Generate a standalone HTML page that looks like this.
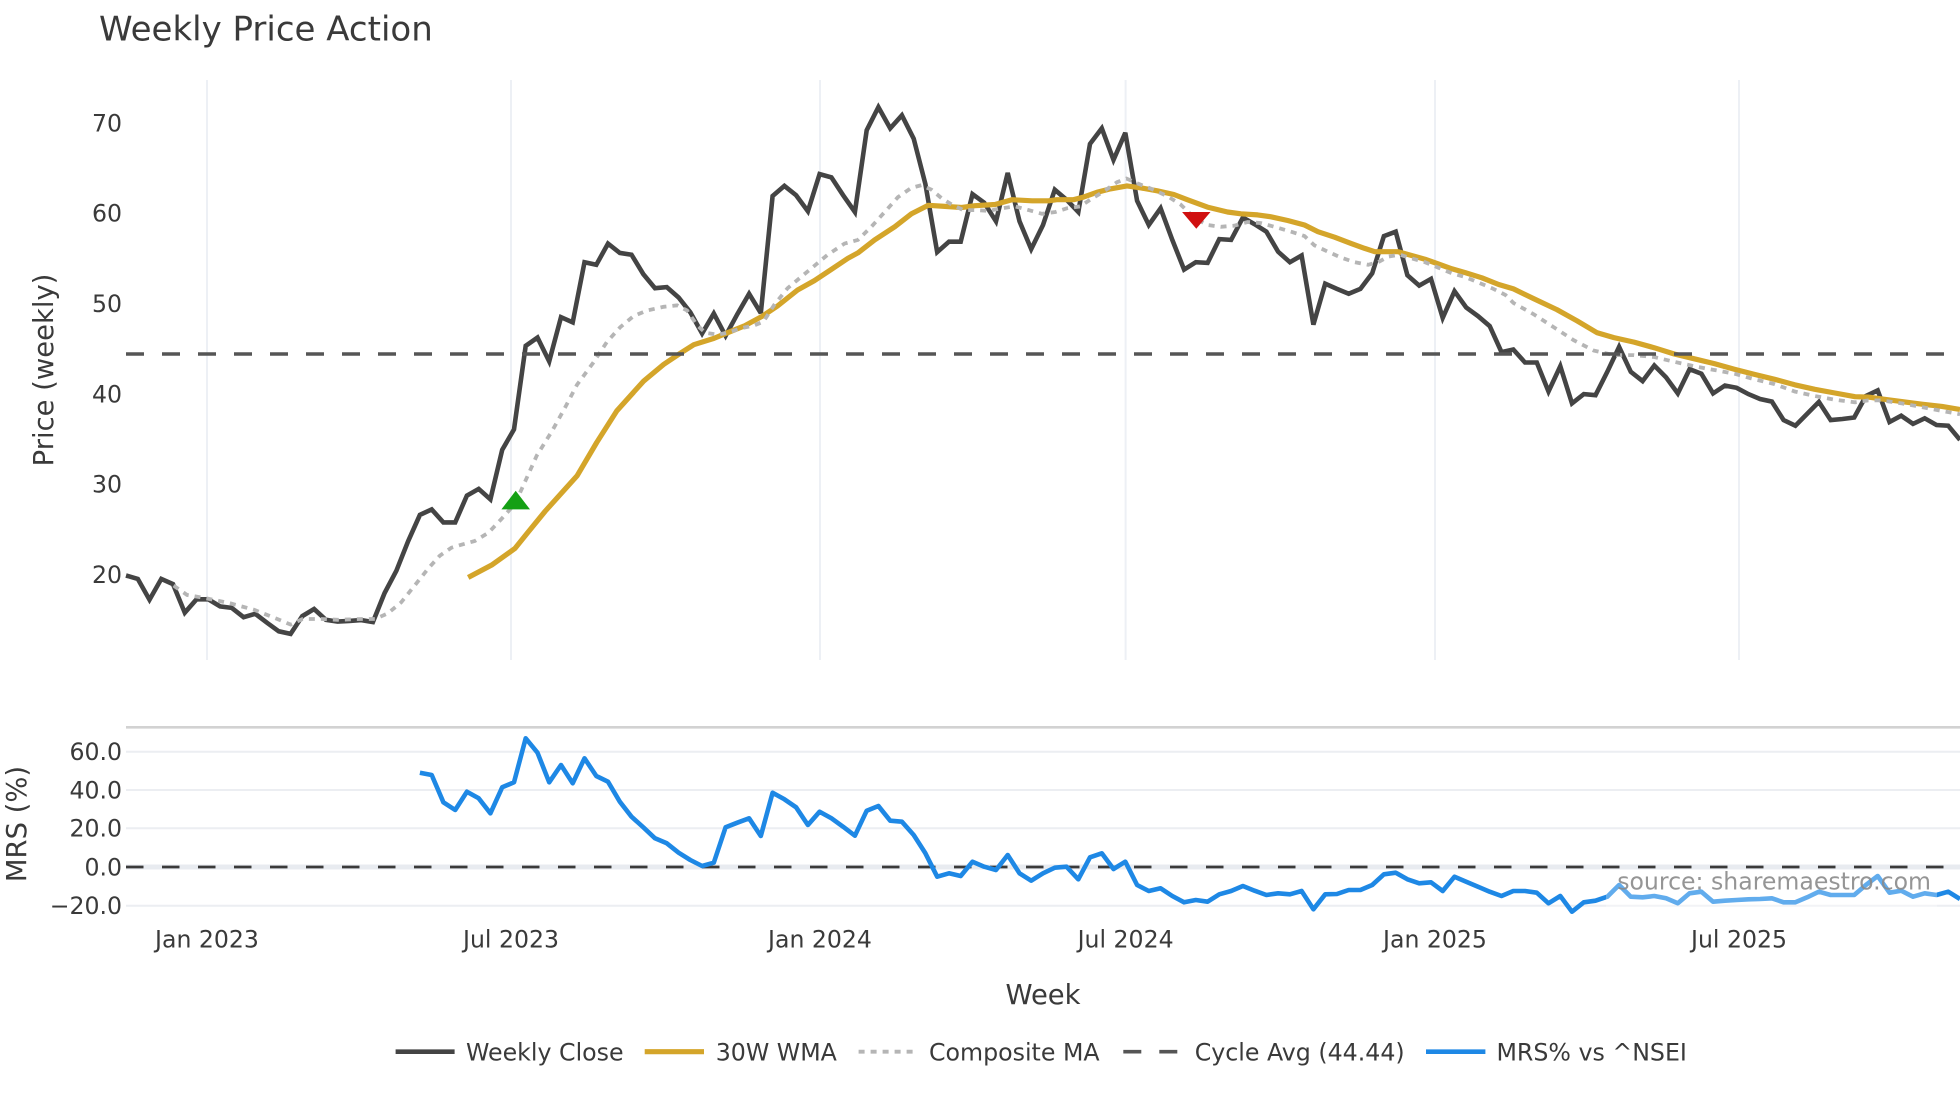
<!DOCTYPE html>
<html>
<head>
<meta charset="utf-8">
<style>
html,body{margin:0;padding:0;background:#ffffff;}
svg{display:block;}
text{font-family:"DejaVu Sans","Liberation Sans",sans-serif;fill:#3a3a3a;}
</style>
</head>
<body>
<svg width="1960" height="1102" viewBox="0 0 1960 1102" xmlns="http://www.w3.org/2000/svg">
<rect x="0" y="0" width="1960" height="1102" fill="#ffffff"/>

<!-- Title -->
<text x="99" y="40.5" font-size="34">Weekly Price Action</text>

<!-- Main plot vertical gridlines -->
<g stroke="#edf0f5" stroke-width="2">
<line x1="207" y1="80" x2="207" y2="660"/>
<line x1="511" y1="80" x2="511" y2="660"/>
<line x1="820" y1="80" x2="820" y2="660"/>
<line x1="1125.6" y1="80" x2="1125.6" y2="660"/>
<line x1="1435" y1="80" x2="1435" y2="660"/>
<line x1="1739" y1="80" x2="1739" y2="660"/>
</g>

<!-- Main y tick labels -->
<g font-size="23.6" text-anchor="end">
<text x="122" y="131.4">70</text>
<text x="122" y="221.7">60</text>
<text x="122" y="312">50</text>
<text x="122" y="402.3">40</text>
<text x="122" y="492.6">30</text>
<text x="122" y="582.9">20</text>
</g>
<text transform="translate(53,370) rotate(-90)" text-anchor="middle" font-size="27.4">Price (weekly)</text>

<!-- Weekly Close -->
<polyline fill="none" stroke="#444444" stroke-width="4.6" stroke-linejoin="miter" stroke-miterlimit="3" points="126,575.5 137.8,578.9 149.5,599.7 161.3,578.9 173,584.1 184.8,612.7 196.5,599.3 208.3,599.3 220.1,606.4 231.8,607.9 243.6,617.2 255.3,613.8 267.1,622.8 278.8,631.3 290.6,633.9 302.3,616.1 314.1,609 325.9,619.8 337.6,621.6 349.4,620.9 361.1,620.1 372.9,622 384.6,593 396.4,570.7 408.2,541 419.9,514.9 431.7,509.4 443.4,522.4 455.2,522.4 466.9,495.6 478.7,488.9 490.4,499.3 502.2,449.9 514,429.4 525.7,345.8 537.5,337.6 549.2,361.4 561,317.2 572.7,322.4 584.5,262.2 596.3,264.8 608,243.6 619.8,252.9 631.5,254.7 643.3,274.1 655,288.2 666.8,287.1 678.6,297.5 690.3,312.3 702.1,333.5 713.8,313.5 725.6,335.8 737.3,314.2 749.1,293.8 760.8,313.1 772.6,196 784.4,185.9 796.1,195.2 807.9,211.2 819.6,174.1 831.4,177.4 843.1,195.2 854.9,212 866.7,130.2 878.4,107.1 890.2,128.3 901.9,115.3 913.7,138.7 925.4,184.1 937.2,252.1 949,241.7 960.7,241.7 972.5,194.1 984.2,202.7 996,221.3 1007.7,172.9 1019.5,221.3 1031.2,249.1 1043,225 1054.8,189.7 1066.5,199.7 1078.3,212 1090,143.9 1101.8,128.3 1113.5,159.9 1125.3,132.8 1137.1,200.8 1148.8,225 1160.6,208.3 1172.3,239.9 1184.1,269.6 1195.8,262.2 1207.6,262.9 1219.3,239.1 1231.1,239.9 1242.9,217.5 1254.6,224.2 1266.4,231.7 1278.1,251.7 1289.9,262.2 1301.6,255.5 1313.4,324.6 1325.2,283.7 1336.9,288.9 1348.7,293.8 1360.4,288.9 1372.2,273.3 1383.9,236.1 1395.7,231.7 1407.4,275.2 1419.2,285.6 1431,278.9 1442.7,317.9 1454.5,291.2 1466.2,307.5 1478,316.1 1489.7,326.1 1501.5,352.1 1513.3,349.5 1525,362.5 1536.8,362.5 1548.5,391.5 1560.3,366.2 1572,403.4 1583.8,394.1 1595.5,395.2 1607.3,371.8 1619.1,346.9 1630.8,371.8 1642.6,381.1 1654.3,365.5 1666.1,377.4 1677.8,393.4 1689.6,369.2 1701.4,373.7 1713.1,393.4 1724.9,385.6 1736.6,387.8 1748.4,394.1 1760.1,399 1771.9,401.6 1783.6,420.1 1795.4,425.7 1807.2,413.8 1818.9,401.9 1830.7,420.1 1842.4,419 1854.2,417.5 1865.9,396 1877.7,390.4 1889.5,422 1901.2,415.7 1913,423.9 1924.7,418.3 1936.5,425 1948.2,425.7 1960,439.9"/>

<!-- 30W WMA -->
<polyline fill="none" stroke="#d4a52a" stroke-width="5.2" stroke-linejoin="round" points="468.2,577.4 491.6,565.1 515,548.4 528.4,531.7 545.2,511.2 561.9,492.6 577,475.9 596.7,442.5 616.8,410.9 643.6,381.1 663.7,364.4 680.4,353.2 693.8,344.7 713.9,338.4 727.3,332.8 744,326.1 762.5,316.1 777.5,306 797.6,290 814.3,280.7 831.1,269.6 847.8,258.4 857.9,252.9 874.6,239.9 894.7,226.8 911.4,213.8 928.2,205.3 944.9,206.4 961.7,207.5 975,205.7 995.1,204.5 1011.9,199.7 1032,200.8 1048.7,200.8 1056.7,199.7 1073.5,199.7 1083.5,197.1 1096.9,192.3 1110.3,188.9 1127,185.9 1140.4,187.8 1157.2,190.8 1173.9,194.5 1187.3,199.7 1207.4,207.1 1227.5,212 1240.9,213.8 1257.6,214.9 1271,216.8 1287.7,220.5 1304.5,225 1317.9,231.7 1334.6,237.2 1351.3,243.6 1364.7,248.4 1374.8,251.7 1388.2,251.7 1398.2,251.7 1411.6,255.5 1425,259.2 1438.4,264 1451.8,268.8 1465.2,272.6 1481.9,277.8 1498.7,284.5 1513.5,288.9 1533.6,298.6 1557,309.7 1577.1,320.9 1597.2,332.8 1613.9,337.6 1634,342.1 1654.1,347.7 1674.2,354 1694.3,358.8 1714.3,363.6 1734.4,369.2 1754.5,374.4 1774.6,379.3 1794.7,384.8 1814.8,389.3 1834.9,393 1855,396.7 1868.3,397.1 1881.7,398.9 1901.8,401.6 1921.9,404.2 1942,406.4 1960,409.5"/>

<!-- Composite MA -->
<polyline fill="none" stroke="#b5b5b5" stroke-width="3.8" stroke-dasharray="6,6" points="173.6,585.6 187,594.9 207.7,598.6 230.5,603.4 253.9,609.7 277.3,619 290.7,624.6 302.5,619 320.9,619 337.6,619.8 361,619 375.1,619 387.8,613.4 401.2,602.3 414.6,585.6 428,568.8 439.7,555.8 451.4,547.7 461.5,544.7 474.9,541 488.3,532.8 501.7,518.7 515,503.8 525.1,481.5 536.8,455.5 551.9,431.3 565.3,407.1 577,384.8 593.4,362.5 606.8,342.1 620.2,327.2 633.6,316.1 647,310.5 663.7,306.8 677.1,305.3 687.1,310.5 697.2,325.4 705.5,332.8 717.3,334.6 727.3,332.8 740.7,328.3 754.1,325.4 763.5,321.6 774.2,304.9 787.6,288.2 801,277 814.3,265.9 827.7,254.7 844.5,243.6 857.9,239.9 871.3,226.8 884.7,212 898,197.1 911.4,187.8 921.5,185.2 931.5,189.7 941.6,198.2 951.6,204.5 963.3,210.1 975,210.1 988.4,210.9 1001.8,208.3 1015.2,206.4 1028.6,210.1 1042,213.8 1055.4,212 1066.8,208.3 1080.2,206.4 1090.2,199.7 1103.6,191.5 1117,182.2 1126.4,178.5 1137.1,183.3 1150.5,188.5 1167.2,196 1180.6,204.5 1194,217.5 1207.4,225 1220.8,226.8 1234.2,225.7 1247.6,222 1261,223.1 1274.4,226.8 1291.1,231.7 1304.5,236.1 1314.5,245.4 1327.9,251.7 1341.3,257.7 1354.7,262.2 1368.1,264.8 1378.1,262.2 1388.2,256.6 1399.9,254.7 1411.6,258.4 1425,262.2 1438.4,267.7 1451.8,273.3 1465.2,277 1478.6,282.6 1492,288.2 1505.4,294.9 1513.5,303 1533.6,314.2 1553.7,327.2 1573.7,340.2 1593.8,350.6 1613.9,355.1 1634,355.1 1654.1,357 1674.2,361.8 1694.3,366.2 1714.3,370 1734.4,373.7 1754.5,379.3 1774.6,384.1 1794.7,391.5 1814.8,396 1834.9,399.7 1855,402.3 1868.3,400.4 1881.7,400.4 1901.8,403.4 1921.9,407.1 1942,410.9 1960,414.3"/>

<!-- Cycle Avg dashed -->
<line x1="126" y1="354" x2="1960" y2="354" stroke="#555555" stroke-width="3.6" stroke-dasharray="18,18"/>

<!-- Markers -->
<polygon points="515.7,490.8 501.4,509.4 530,509.4" fill="#14a014"/>
<polygon points="1182.1,212 1210.5,212 1196.3,228.7" fill="#d01010"/>

<!-- MRS panel -->
<line x1="126" y1="727.3" x2="1960" y2="727.3" stroke="#d2d2d2" stroke-width="2.6"/>
<g stroke="#eceef2" stroke-width="2">
<line x1="126" y1="751.7" x2="1960" y2="751.7"/>
<line x1="126" y1="790" x2="1960" y2="790"/>
<line x1="126" y1="828.3" x2="1960" y2="828.3"/>
<line x1="126" y1="905.7" x2="1960" y2="905.7"/>
</g>
<line x1="126" y1="867" x2="1960" y2="867" stroke="#e8ebf0" stroke-width="5"/>
<line x1="126" y1="867" x2="1960" y2="867" stroke="#3a3a3a" stroke-width="2.7" stroke-dasharray="17.5,18.5"/>

<g font-size="23.6" text-anchor="end">
<text x="122" y="760.1">60.0</text>
<text x="122" y="798.4">40.0</text>
<text x="122" y="836.7">20.0</text>
<text x="122" y="875.4">0.0</text>
<text x="122" y="914.1">−20.0</text>
</g>
<text transform="translate(26,824) rotate(-90)" text-anchor="middle" font-size="27.4">MRS (%)</text>

<!-- MRS line -->
<polyline fill="none" stroke="#1e88e5" stroke-width="4.6" stroke-linejoin="round" points="419.9,772.7 431.7,775 443.4,802.3 455.2,810 466.9,791.7 478.7,798.3 490.4,813.3 502.2,787.3 514,782.3 525.7,738.3 537.5,752.7 549.2,782.3 561,765 572.7,783.3 584.5,758.3 596.3,776 608,781.7 619.8,801.7 631.5,816.7 643.3,827.3 655,838.3 666.8,843.3 678.6,852.7 690.3,860 702.1,866 713.8,862.7 725.6,827.3 737.3,822.7 749.1,818.3 760.8,836 772.6,792.7 784.4,799.3 796.1,807.3 807.9,825 819.6,811.7 831.4,818.3 843.1,826.7 854.9,835.7 866.7,810.7 878.4,806 890.2,820.7 901.9,821.7 913.7,835 925.4,853.3 937.2,876.7 949,873.3 960.7,876 972.5,861.7 984.2,866.7 996,870 1007.7,855 1019.5,873.3 1031.2,880.7 1043,873.3 1054.8,867.7 1066.5,866.7 1078.3,879.3 1090,857.3 1101.8,853.3 1113.5,869 1125.3,861.7 1137.1,885 1148.8,891 1160.6,888.3 1172.3,896 1184.1,902.3 1195.8,900 1207.6,901.7 1219.3,894.3 1231.1,891 1242.9,886 1254.6,890.7 1266.4,895 1278.1,893.3 1289.9,894.3 1301.6,891 1313.4,909.3 1325.2,894.3 1336.9,894 1348.7,890 1360.4,890 1372.2,885 1383.9,874.3 1395.7,872.7 1407.4,879.3 1419.2,883.3 1431,882.3 1442.7,891 1454.5,876.7 1466.2,881.7 1478,886.7 1489.7,891.7 1501.5,896 1513.3,891 1525,891 1536.8,892.7 1548.5,903.3 1560.3,896 1572,911.7 1583.8,902.3 1595.5,900.7 1607.3,896.7 1619.1,885 1630.8,896.7 1642.6,897.3 1654.3,896 1666.1,898.3 1677.8,903.3 1689.6,893.3 1701.4,891.7 1713.1,901.7 1724.9,900.7 1736.6,900 1748.4,899.3 1760.1,899 1771.9,898.3 1783.6,902.3 1795.4,902.3 1807.2,897.3 1818.9,891.7 1830.7,895 1842.4,895 1854.2,895 1865.9,885 1877.7,876 1889.5,892.7 1901.2,890.7 1913,896.7 1924.7,893.3 1936.5,895 1948.2,891.7 1960,899"/>

<!-- Watermark -->
<rect x="1606" y="870" width="331" height="37" fill="#ffffff" fill-opacity="0.3"/>
<text x="1931" y="889.5" font-size="23.6" text-anchor="end" style="fill:#8a8a8a" fill-opacity="0.9">source: sharemaestro.com</text>

<!-- X tick labels -->
<g font-size="23.6" text-anchor="middle">
<text x="207" y="947.5">Jan 2023</text>
<text x="511" y="947.5">Jul 2023</text>
<text x="820" y="947.5">Jan 2024</text>
<text x="1125.6" y="947.5">Jul 2024</text>
<text x="1435" y="947.5">Jan 2025</text>
<text x="1739" y="947.5">Jul 2025</text>
</g>
<text x="1043" y="1003.8" font-size="27.4" text-anchor="middle">Week</text>

<!-- Legend -->
<line x1="395.6" y1="1051.7" x2="454.6" y2="1051.7" stroke="#444444" stroke-width="4.6"/>
<text x="466" y="1060.5" font-size="23.7">Weekly Close</text>
<line x1="644.7" y1="1051.7" x2="704" y2="1051.7" stroke="#d4a52a" stroke-width="5.2"/>
<text x="715.7" y="1060.5" font-size="23.7">30W WMA</text>
<line x1="858.6" y1="1051.7" x2="916" y2="1051.7" stroke="#b5b5b5" stroke-width="3.8" stroke-dasharray="6,6"/>
<text x="929" y="1060.5" font-size="23.7">Composite MA</text>
<line x1="1123.3" y1="1051.7" x2="1178" y2="1051.7" stroke="#555555" stroke-width="3.6" stroke-dasharray="18,18"/>
<text x="1194.7" y="1060.5" font-size="23.7">Cycle Avg (44.44)</text>
<line x1="1426" y1="1051.7" x2="1485.4" y2="1051.7" stroke="#1e88e5" stroke-width="4.6"/>
<text x="1496.5" y="1060.5" font-size="23.7">MRS% vs ^NSEI</text>
</svg>
</body>
</html>
